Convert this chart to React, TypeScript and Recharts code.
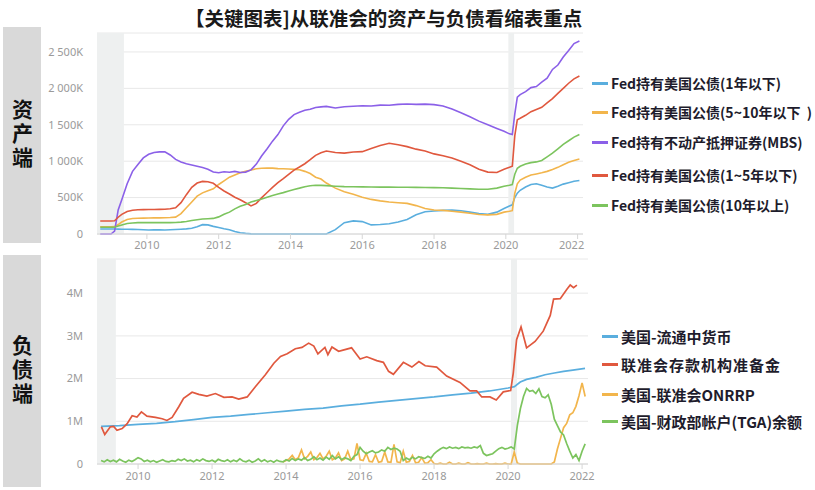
import { LineChart, Line, XAxis, YAxis, CartesianGrid, ReferenceArea } from 'recharts'

// ---- asset side (K USD) ----
const ASSET_DATES = [
  2008.7, 2008.85, 2009.0, 2009.1, 2009.2, 2009.3, 2009.45, 2009.6, 2009.75, 2009.9,
  2010.05, 2010.2, 2010.35, 2010.5, 2010.65, 2010.8, 2010.95, 2011.1, 2011.25, 2011.4,
  2011.55, 2011.7, 2011.85, 2012.0, 2012.15, 2012.3, 2012.45, 2012.6, 2012.75, 2012.9,
  2013.05, 2013.2, 2013.35, 2013.5, 2013.65, 2013.8, 2013.95, 2014.1, 2014.25, 2014.4,
  2014.55, 2014.7, 2014.85, 2015.0, 2015.25, 2015.5, 2015.75, 2016.0, 2016.25, 2016.5,
  2016.75, 2017.0, 2017.25, 2017.5, 2017.75, 2018.0, 2018.25, 2018.5, 2018.75, 2019.0,
  2019.25, 2019.5, 2019.75, 2019.95, 2020.1, 2020.18, 2020.25, 2020.32, 2020.4, 2020.55,
  2020.7, 2020.85, 2021.0, 2021.15, 2021.3, 2021.45, 2021.6, 2021.75, 2021.9, 2022.05,
]
const BILLS_1Y = [
  69, 69, 69, 68, 67, 66, 65, 64, 62, 58,
  55, 56, 57, 55, 58, 62, 66, 70, 78, 100,
  128, 125, 105, 88, 72, 58, 35, 18, 8, 2,
  0, 0, 0, 0, 0, 0, 0, 0, 0, 0,
  0, 0, 0, 0, 60, 155, 180, 170, 125, 130,
  140, 165, 200, 265, 305, 315, 325, 330, 320, 300,
  280, 270, 300, 350, 385, 400, 500, 560, 600, 645,
  680, 690, 670, 645, 630, 655, 685, 705, 725, 735,
]
const NOTES_5_10 = [
  100, 100, 100, 102, 130, 165, 200, 213, 216, 218,
  220, 221, 222, 223, 226, 232, 280, 360, 440, 520,
  565, 595, 620, 680, 730, 780, 810, 840, 860, 880,
  895, 902, 905, 905, 898, 895, 893, 888, 882, 860,
  830, 780, 755, 700, 630, 580, 545, 505, 475, 455,
  440, 430, 420, 390, 350, 330, 325, 312, 300, 285,
  268, 262, 270, 300, 312, 320, 560, 690, 740, 780,
  810, 825, 840, 860, 885, 915, 950, 985, 1010, 1030,
]
const MBS = [
  0, 0, 0, 40, 330, 470, 690, 860, 955, 1045,
  1095, 1120, 1128, 1130, 1085, 1025, 990, 965, 948, 930,
  912, 890, 852, 842, 855, 848, 860, 845, 850, 880,
  960, 1075, 1170, 1275, 1365, 1485, 1575, 1640, 1672, 1700,
  1712, 1738, 1745, 1752, 1730, 1748, 1755, 1762, 1758, 1770,
  1768, 1780, 1786, 1780, 1784, 1776, 1758, 1715, 1665, 1610,
  1550, 1500, 1450, 1410, 1375, 1365, 1650, 1880, 1915, 1955,
  2010, 2025, 2085, 2140, 2260, 2320, 2430, 2520, 2615, 2650,
]
const NOTES_1_5 = [
  179, 179, 179, 182, 230, 270, 310, 326, 332, 335,
  336, 337, 338, 340, 346, 360, 430, 540, 640, 700,
  722, 718, 696, 640, 590, 550, 505, 470, 430, 385,
  420, 500, 570, 640, 705, 760, 820, 878, 920, 965,
  1020, 1080, 1115, 1140, 1120, 1110, 1125, 1131, 1175, 1215,
  1246, 1225, 1200, 1165, 1140, 1100, 1075, 1045, 1000, 950,
  890, 850, 845, 890, 915, 930, 1350, 1570, 1590, 1630,
  1680, 1710, 1740, 1800, 1860, 1930, 2000, 2070, 2130, 2170,
]
const BONDS_10Y = [
  92, 92, 92, 93, 110, 125, 145, 152, 156, 157,
  156, 156, 156, 156, 156, 158, 163, 172, 185, 196,
  205, 210, 214, 235, 270, 300, 345, 380, 405, 440,
  460, 481, 505, 528, 548, 568, 590, 612, 630, 650,
  662, 670, 668, 664, 656, 650, 648, 647, 645, 644,
  643, 642, 641, 640, 639, 637, 635, 630, 625, 620,
  615, 614, 630, 655, 670, 680, 820, 902, 930, 960,
  980, 990, 1010, 1060, 1110, 1170, 1230, 1280, 1330, 1365,
]

// ---- liability side (M USD) ----
const RESERVES_T = [
  2009.01, 2009.1, 2009.25, 2009.34, 2009.43, 2009.57, 2009.7, 2009.84, 2009.97, 2010.09,
  2010.24, 2010.47, 2010.65, 2010.78, 2010.92, 2011.1, 2011.23, 2011.46, 2011.64, 2011.86,
  2012.09, 2012.32, 2012.54, 2012.72, 2012.95, 2013.17, 2013.44, 2013.67, 2013.85, 2014.03,
  2014.25, 2014.43, 2014.61, 2014.75, 2014.86, 2015.05, 2015.13, 2015.24, 2015.42, 2015.77,
  2016.0, 2016.18, 2016.45, 2016.63, 2016.77, 2016.9, 2017.17, 2017.4, 2017.59, 2017.76,
  2018.07, 2018.34, 2018.7, 2018.97, 2019.15, 2019.29, 2019.51, 2019.68, 2019.87, 2020.07,
  2020.14, 2020.23, 2020.35, 2020.5, 2020.73, 2020.95, 2021.14, 2021.23, 2021.41, 2021.59,
  2021.68, 2021.77, 2021.86,
]
const RESERVES = [
  0.87, 0.69, 0.87, 0.88, 0.79, 0.83, 0.94, 1.13, 1.1, 1.22,
  1.12, 1.09, 1.06, 1.02, 1.09, 1.34, 1.54, 1.68, 1.63, 1.59,
  1.65, 1.56, 1.57, 1.52, 1.57, 1.81, 2.09, 2.36, 2.52, 2.58,
  2.7, 2.73, 2.83, 2.76, 2.58, 2.73, 2.56, 2.74, 2.64, 2.72,
  2.46, 2.51, 2.42, 2.38, 2.17, 2.1, 2.38, 2.27, 2.4, 2.3,
  2.27, 2.06, 1.91, 1.71, 1.71, 1.57, 1.57, 1.5, 1.69, 1.72,
  2.13, 2.91, 3.21, 2.72, 2.87, 3.11, 3.48, 3.86, 3.87, 4.09,
  4.19, 4.13, 4.19,
]
const CURRENCY_T = [
  2009.0, 2009.5, 2010.0, 2010.5, 2011.0, 2011.5, 2012.0, 2012.5, 2013.0, 2013.5,
  2014.0, 2014.5, 2015.0, 2015.5, 2016.0, 2016.5, 2017.0, 2017.5, 2018.0, 2018.5,
  2019.0, 2019.5, 2020.0, 2020.17, 2020.33, 2020.5, 2020.75, 2021.0, 2021.25, 2021.5,
  2021.75, 2022.08,
]
const CURRENCY = [
  0.88, 0.9, 0.93, 0.95, 0.99, 1.04, 1.09, 1.12, 1.16, 1.2,
  1.24, 1.28, 1.31, 1.36, 1.4, 1.45, 1.49, 1.53, 1.57, 1.62,
  1.66, 1.71, 1.78, 1.81, 1.92, 1.98, 2.03, 2.09, 2.13, 2.17,
  2.2, 2.24,
]
// monthly from Jan 2009
const TGA = [
  0.08, 0.05, 0.1, 0.06, 0.09, 0.05, 0.11, 0.07, 0.04, 0.09, 0.06, 0.1,
  0.15, 0.12, 0.06, 0.09, 0.05, 0.08, 0.04, 0.07, 0.1, 0.06, 0.05, 0.08,
  0.06, 0.11, 0.08, 0.12, 0.07, 0.09, 0.05, 0.1, 0.07, 0.12, 0.08, 0.06,
  0.09, 0.05, 0.11, 0.08, 0.06, 0.1, 0.05, 0.09, 0.06, 0.12, 0.07, 0.05,
  0.09, 0.04, 0.07, 0.12, 0.06, 0.1, 0.05, 0.08, 0.04, 0.09, 0.06, 0.05,
  0.1, 0.07, 0.13, 0.08, 0.12, 0.09, 0.15, 0.08, 0.11, 0.17, 0.1, 0.14,
  0.09, 0.16, 0.11, 0.2, 0.12, 0.17, 0.1, 0.15, 0.12, 0.08, 0.18, 0.22,
  0.39, 0.3, 0.24, 0.28, 0.31, 0.26, 0.28, 0.33, 0.3, 0.39, 0.34, 0.37,
  0.35, 0.3, 0.08, 0.14, 0.1, 0.16, 0.12, 0.17, 0.15, 0.13, 0.18, 0.14,
  0.24, 0.3, 0.35, 0.39, 0.36, 0.4, 0.37, 0.39, 0.36, 0.4, 0.38, 0.39,
  0.37, 0.4, 0.38, 0.43, 0.25, 0.2, 0.22, 0.24, 0.3, 0.36, 0.39, 0.35,
  0.37, 0.4, 0.35, 0.9, 1.3, 1.58, 1.77, 1.7, 1.72, 1.65, 1.76, 1.58,
  1.55, 1.62, 1.4, 1.05, 0.9, 0.75, 0.68, 0.48, 0.3, 0.14, 0.22, 0.08,
  0.3, 0.47,
]
// monthly from Dec 2013
const ONRRP = [
  0.05,
  0.08, 0.12, 0.2, 0.1, 0.15, 0.33, 0.12, 0.18, 0.28, 0.1, 0.15, 0.25,
  0.12, 0.18, 0.3, 0.1, 0.14, 0.26, 0.08, 0.12, 0.3, 0.1, 0.12, 0.48,
  0.1, 0.08, 0.25, 0.06, 0.05, 0.22, 0.04, 0.06, 0.28, 0.05, 0.04, 0.46,
  0.05, 0.03, 0.3, 0.04, 0.06, 0.2, 0.03, 0.04, 0.15, 0.02, 0.03, 0.1,
  0.01, 0, 0.02, 0, 0, 0.04, 0, 0, 0.02, 0, 0, 0.03,
  0, 0, 0.01, 0, 0, 0.02, 0, 0, 0.01, 0, 0, 0.02,
  0, 0, 0.28, 0.02, 0, 0, 0, 0, 0, 0, 0, 0,
  0, 0, 0, 0.05, 0.35, 0.6, 0.85, 0.95, 1.15, 1.2, 1.35, 1.6,
  1.9, 1.58,
]

const YEAR_TICKS = [2010, 2012, 2014, 2016, 2018, 2020, 2022]
const ASSET_TICKS = [0, 500, 1000, 1500, 2000, 2500]
const ASSET_TICK_LABELS = ['0', '500K', '1 000K', '1 500K', '2 000K', '2 500K']
const LIAB_TICKS = [0, 1, 2, 3, 4]
const LIAB_TICK_LABELS = ['0', '1M', '2M', '3M', '4M']

const ASSET_SERIES = [
  { key: 'bills', name: 'Fed持有美国公债(1年以下)', color: '#5aaede', values: BILLS_1Y },
  { key: 'n510', name: 'Fed持有美国公债(5~10年以下  )', color: '#f2b54c', values: NOTES_5_10 },
  { key: 'mbs', name: 'Fed持有不动产抵押证券(MBS)', color: '#8b60e8', values: MBS },
  { key: 'n15', name: 'Fed持有美国公债(1~5年以下)', color: '#e0583e', values: NOTES_1_5 },
  { key: 'b10', name: 'Fed持有美国公债(10年以上)', color: '#7cc45e', values: BONDS_10Y },
]

const monthsFrom = (start: number, n: number) =>
  Array.from({ length: n }, (_, i) => start + i / 12)

const LIAB_SERIES = [
  { key: 'cur', name: '美国-流通中货币', color: '#5aaede', t: CURRENCY_T, values: CURRENCY },
  { key: 'res', name: '联准会存款机构准备金', color: '#e0583e', t: RESERVES_T, values: RESERVES },
  { key: 'rrp', name: '美国-联准会ONRRP', color: '#f2b54c', t: monthsFrom(2013 + 11 / 12, ONRRP.length), values: ONRRP },
  { key: 'tga', name: '美国-财政部帐户(TGA)余额', color: '#7cc45e', t: monthsFrom(2009, TGA.length), values: TGA },
]

const assetRows = ASSET_DATES.map((t, i) => {
  const row: Record<string, number> = { t }
  ASSET_SERIES.forEach((s) => (row[s.key] = s.values[i]))
  return row
})

const liabMap = new Map<number, Record<string, number>>()
LIAB_SERIES.forEach((s) => {
  s.t.forEach((t, i) => {
    const k = Math.round(t * 10000) / 10000
    const row = liabMap.get(k) ?? { t: k }
    row[s.key] = s.values[i]
    liabMap.set(k, row)
  })
})
const liabRows = Array.from(liabMap.values()).sort((a, b) => a.t - b.t)

const tickStyle = { fontSize: 11, fill: '#9a9a9a', fontFamily: 'Noto Sans, sans-serif' }
const BAND = '#eef0f0'

// the last year label of the top panel sits a little left of its tick
function TopYearTick(props: any) {
  const { x, y, payload } = props
  const dx = payload.value === 2022 ? -6 : 0
  return (
    <text x={x + dx} y={y} dy="0.71em" textAnchor="middle" {...tickStyle}>
      {payload.value}
    </text>
  )
}

function SideLabel({ top, height, text }: { top: number; height: number; text: string }) {
  return (
    <div
      style={{
        position: 'absolute', left: 3, top, width: 38, height,
        background: '#d9d9d9', display: 'flex',
        alignItems: 'center', justifyContent: 'center',
      }}
    >
      <span style={{
        writingMode: 'vertical-rl', letterSpacing: 3, lineHeight: 1,
        fontFamily: '"Noto Sans CJK SC", sans-serif', fontWeight: 700, fontSize: 21, color: '#111',
      }}>{text}</span>
    </div>
  )
}

function LegendItem({ x, y, color, label, size = 14, spacing = 0 }: {
  x: number; y: number; color: string; label: string; size?: number; spacing?: number
}) {
  return (
    <div style={{ position: 'absolute', left: x, top: y - 11, height: 22, display: 'flex', alignItems: 'center', whiteSpace: 'pre' }}>
      <span style={{ width: 16, height: 3, background: color, marginRight: 3 }} />
      <span style={{
        fontFamily: '"Noto Sans CJK SC", sans-serif', fontWeight: 700, fontSize: size,
        letterSpacing: spacing, color: '#1e1c2c',
      }}>{label}</span>
    </div>
  )
}

export default function App() {
  return (
    <div style={{ position: 'absolute', left: 0, top: 0, width: 815, height: 490, background: '#fff', overflow: 'hidden' }}>
      <div style={{
        position: 'absolute', left: 185, top: 3, whiteSpace: 'nowrap',
        fontFamily: '"Noto Sans CJK SC", sans-serif', fontWeight: 700, fontSize: 19.5, color: '#1a1a1a',
      }}>
        【关键图表]从联准会的资产与负债看缩表重点
      </div>

      <SideLabel top={27} height={216} text="资产端" />
      <SideLabel top={255} height={232} text="负债端" />

      <div style={{ position: 'absolute', left: 0, top: 0 }}>
        <LineChart width={815} height={264} data={assetRows} margin={{ top: 33, right: 232, bottom: 0, left: 0 }}>
          <ReferenceArea x1={2008.61} x2={2009.36} fill={BAND} fillOpacity={1} stroke="none" />
          <ReferenceArea x1={2020.07} x2={2020.23} fill={BAND} fillOpacity={1} stroke="none" />
          <CartesianGrid vertical={false} stroke="#e8e8e8" />
          <XAxis
            dataKey="t" type="number" domain={[2008.61, 2022.15]} allowDataOverflow
            ticks={YEAR_TICKS} interval={0} height={30}
            tick={<TopYearTick />} tickSize={5} tickMargin={2}
            axisLine={{ stroke: '#d6d6d6' }} tickLine={{ stroke: '#d6d6d6' }}
          />
          <YAxis
            type="number" domain={[0, 2760]} ticks={ASSET_TICKS} width={97}
            tickFormatter={(v: number) => ASSET_TICK_LABELS[ASSET_TICKS.indexOf(v)]}
            tick={tickStyle} axisLine={false} tickLine={false} tickMargin={8}
          />
          {ASSET_SERIES.map((s) => (
            <Line key={s.key} dataKey={s.key} type="linear" stroke={s.color} strokeWidth={1.6} dot={false} isAnimationActive={false} />
          ))}
        </LineChart>
      </div>

      <div style={{ position: 'absolute', left: 0, top: 250 }}>
        <LineChart width={815} height={238} data={liabRows} margin={{ top: 9, right: 227, bottom: 0, left: 0 }}>
          <ReferenceArea x1={2008.89} x2={2009.4} fill={BAND} fillOpacity={1} stroke="none" />
          <ReferenceArea x1={2020.08} x2={2020.24} fill={BAND} fillOpacity={1} stroke="none" />
          <CartesianGrid vertical={false} stroke="#e8e8e8" />
          <XAxis
            dataKey="t" type="number" domain={[2008.89, 2022.16]} allowDataOverflow
            ticks={YEAR_TICKS} interval={0} height={24}
            tick={tickStyle} tickSize={5} tickMargin={3}
            axisLine={{ stroke: '#d6d6d6' }} tickLine={{ stroke: '#d6d6d6' }}
          />
          <YAxis
            type="number" domain={[0, 4.8]} ticks={LIAB_TICKS} width={97}
            tickFormatter={(v: number) => LIAB_TICK_LABELS[LIAB_TICKS.indexOf(v)]}
            tick={tickStyle} axisLine={false} tickLine={false} tickMargin={8}
          />
          {LIAB_SERIES.map((s) => (
            <Line key={s.key} dataKey={s.key} type="linear" stroke={s.color} strokeWidth={1.7} dot={false} connectNulls isAnimationActive={false} />
          ))}
        </LineChart>
      </div>

      <LegendItem x={592} y={83} color={ASSET_SERIES[0].color} label={ASSET_SERIES[0].name} />
      <LegendItem x={592} y={112} color={ASSET_SERIES[1].color} label={ASSET_SERIES[1].name} />
      <LegendItem x={592} y={142} color={ASSET_SERIES[2].color} label={ASSET_SERIES[2].name} />
      <LegendItem x={592} y={175} color={ASSET_SERIES[3].color} label={ASSET_SERIES[3].name} />
      <LegendItem x={592} y={205} color={ASSET_SERIES[4].color} label={ASSET_SERIES[4].name} />

      <LegendItem x={602} y={336} color={LIAB_SERIES[0].color} label={LIAB_SERIES[0].name} size={15} />
      <LegendItem x={602} y={364} color={LIAB_SERIES[1].color} label={LIAB_SERIES[1].name} size={15} spacing={1} />
      <LegendItem x={602} y={394} color={LIAB_SERIES[2].color} label={LIAB_SERIES[2].name} size={15} />
      <LegendItem x={602} y={421} color={LIAB_SERIES[3].color} label={LIAB_SERIES[3].name} size={15} />
    </div>
  )
}
